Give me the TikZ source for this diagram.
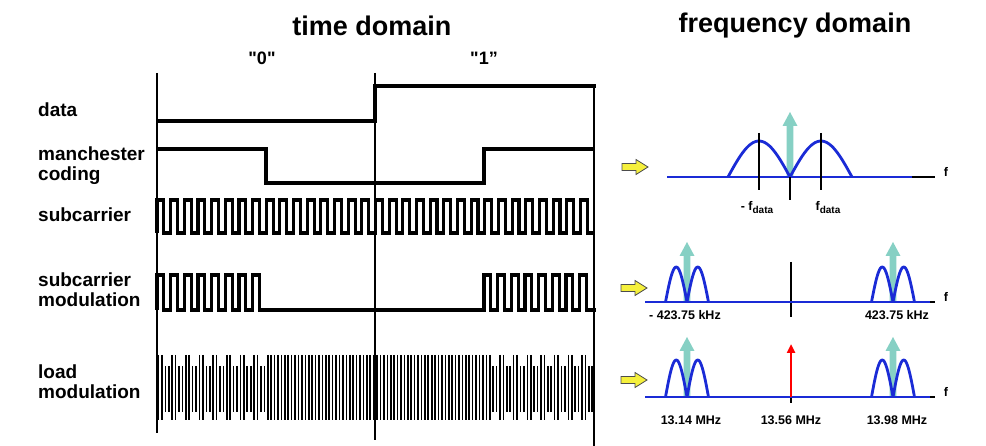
\documentclass[tikz,border=0pt]{standalone}
\usepackage{fontspec}
\setmainfont{Liberation Sans}
\newfontfamily\qfont{Liberation Sans}[Ligatures=TeXOff]
\usetikzlibrary{arrows.meta}
\definecolor{lobeblue}{HTML}{1A2BD6}
\definecolor{tealarrow}{HTML}{86D0C4}
\definecolor{yel}{HTML}{F5F03C}
\begin{document}
\begin{tikzpicture}[x=1pt,y=-1pt,
  lbl/.style={font=\fontsize{19}{20}\selectfont\bfseries, anchor=west, align=left, inner sep=0pt},
  ttl/.style={font=\fontsize{27}{30}\selectfont\bfseries, inner sep=0pt},
  bitlbl/.style={font=\qfont\fontsize{18}{20}\selectfont\bfseries, inner sep=0pt},
  flbl/.style={font=\fontsize{12.5}{14}\selectfont\bfseries, inner sep=0pt},
  sig/.style={line width=3.1pt, line join=miter},
  divider/.style={line width=1.2pt},
  axis/.style={line width=1.1pt},
  blueline/.style={draw=lobeblue, line width=2.8pt, line join=round},
  yarrow/.pic={\filldraw[fill=yel, draw=black!70, line width=0.8pt]
     (-13,-3.5) -- (1,-3.5) -- (1,-7.5) -- (13,0) -- (1,7.5) -- (1,3.5) -- (-13,3.5) -- cycle;},
  tarrow/.pic={\fill[tealarrow] (-3.4,0) -- (-3.4,-#1+14) -- (-7.5,-#1+14) -- (0,-#1)
     -- (7.5,-#1+14) -- (3.4,-#1+14) -- (3.4,0) -- cycle;}
]
\useasboundingbox (0,0) rectangle (986,446);

% titles
\node[ttl] (tt) at (372,26) {time domain};
\node[ttl] (ft) at (795,26) {frequency domain};
\node[bitlbl] (b0) at (262,58) {"0"};
\node[bitlbl] (b1) at (484,58) {"1”};

% row labels
\node[lbl] (l1) at (38,110) {data};
\node[lbl] (l2) at (38,166) {manchester\\coding};
\node[lbl] (l3) at (38,215) {subcarrier};
\node[lbl] (l4) at (38,290) {subcarrier\\modulation};
\node[lbl] (l5) at (38,382) {load\\modulation};

% dividers
\draw[divider] (157,73) -- (157,433);
\draw[divider] (375,73) -- (375,440);
\draw[divider] (594,85) -- (594,446);

% data
\draw[sig] (157,121) -- (375,121) -- (375,86) -- (596,86);
% manchester
\draw[sig] (157,149) -- (266,149) -- (266,183) -- (484,183) -- (484,149) -- (594,149);
% subcarrier
\draw[sig] (157,233) \foreach \i in {1,...,32}{ -- ++(0,-33) -- ++(6.83,0) -- ++(0,33) -- ++(6.83,0)};
% subcarrier modulation
\draw[sig] (157,310) \foreach \i in {1,...,8}{ -- ++(0,-35) -- ++(6.83,0) -- ++(0,35) -- ++(6.83,0)}
   -- (484,310) \foreach \i in {1,...,8}{ -- ++(0,-35) -- ++(6.83,0) -- ++(0,35) -- ++(6.83,0)} -- (596,310);
% load modulation
\foreach \k in {0,...,127}{
  \pgfmathsetmacro\bx{158.5+\k*3.415}
  \pgfmathtruncatemacro\ph{mod(\k,4)}
  \pgfmathtruncatemacro\ismod{((\bx<266)||(\bx>484)) ? 1 : 0}
  \pgfmathsetmacro\yt{((\ismod==1)&&(\ph>=2)) ? 366 : 355}
  \pgfmathsetmacro\yb{((\ismod==1)&&(\ph>=2)) ? 412 : 420}
  \draw[line width=1.6pt] (\bx,\yt) -- (\bx,\yb);
}

% ---------- frequency panel 1 ----------
\pic at (635,167) {yarrow};
\draw[axis] (667,177) -- (935,177);
\pic at (790,177) {tarrow=65};
\draw[blueline] (667,177) -- (912,177);
\draw[blueline] plot[domain=0:180, samples=31] ({728+\x/180*62},{177-36*sin(\x)});
\draw[blueline] plot[domain=0:180, samples=31] ({790+\x/180*62},{177-36*sin(\x)});
\draw[axis] (759,133) -- (759,190);
\draw[axis] (821,133) -- (821,190);
\draw[axis] (790,177) -- (790,200);
\node[flbl] (f1) at (946,172) {f};
\node[flbl] (fd1) at (757,208) {- f\raisebox{-3pt}{\fontsize{10}{10}\selectfont data}};
\node[flbl] (fd2) at (828,208) {f\raisebox{-3pt}{\fontsize{10}{10}\selectfont data}};

% ---------- frequency panel 2 ----------
\pic at (634,288) {yarrow};
\draw[axis] (645,302) -- (935,302);
\draw[axis] (791,262) -- (791,317);
\foreach \c in {687,893}{
  \pic at (\c,302) {tarrow=60};
  \draw[blueline] plot[domain=0:180, samples=25] ({\c-21.5+\x/180*21.5},{302-35*sin(\x)});
  \draw[blueline] plot[domain=0:180, samples=25] ({\c+\x/180*21.5},{302-35*sin(\x)});
}
\draw[blueline] (645,302) -- (930,302);
\node[flbl] (f2) at (946,297) {f};
\node[flbl] (k1) at (685,315) {- 423.75 kHz};
\node[flbl] (k2) at (897,315) {423.75 kHz};

% ---------- frequency panel 3 ----------
\pic at (634,380) {yarrow};
\draw[axis] (645,397) -- (935,397);
\draw[axis] (791,392) -- (791,403);
\foreach \c in {687,893}{
  \pic at (\c,397) {tarrow=60};
  \draw[blueline] plot[domain=0:180, samples=25] ({\c-21.5+\x/180*21.5},{397-37*sin(\x)});
  \draw[blueline] plot[domain=0:180, samples=25] ({\c+\x/180*21.5},{397-37*sin(\x)});
}
\draw[blueline] (645,397) -- (930,397);
\coordinate (rb) at (791,397);
\coordinate (rt) at (791,344);
\draw[red, line width=2.4pt, -{Triangle[length=9pt,width=8pt]}] (rb) -- (rt);
\node[flbl] (f3) at (946,392) {f};
\node[flbl] (m1) at (691,420) {13.14 MHz};
\node[flbl] (m2) at (791,420) {13.56 MHz};
\node[flbl] (m3) at (897,420) {13.98 MHz};
\end{tikzpicture}
\end{document}
